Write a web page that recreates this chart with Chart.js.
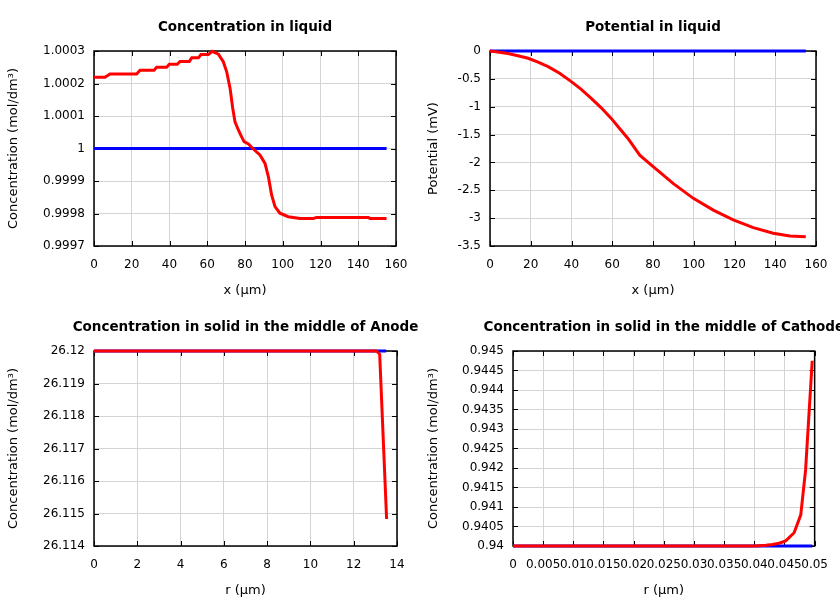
<!DOCTYPE html>
<html>
<head>
<meta charset="utf-8">
<script src="https://cdn.jsdelivr.net/npm/chart.js@4.4.1/dist/chart.umd.min.js"></script>
<style>
  body { margin: 0; background: #fff; }
  #wrap { position: relative; width: 840px; height: 600px; overflow: hidden; }
  canvas { position: absolute; }
</style>
</head>
<body>
<div id="wrap">
  <canvas id="c1" width="420" height="300" style="left:0;top:0"></canvas>
  <canvas id="c2" width="420" height="300" style="left:420px;top:0"></canvas>
  <canvas id="c3" width="420" height="300" style="left:0;top:300px"></canvas>
  <canvas id="c4" width="420" height="300" style="left:420px;top:300px"></canvas>
</div>
<script>
// concentration in liquid
var liquidX = [0, 5.8, 8.5, 22.6, 24.4, 31.8, 33.2, 38.5, 39.9, 44.1, 45.6, 50.5, 51.8, 55.3, 56.7, 60.6, 62.6, 65.9, 68.5, 70.3, 72.1, 73.5, 74.7, 76.5, 77.7, 79.5, 81.8, 84.4, 87.9, 90.6, 92.4, 94.1, 95.9, 98.5, 102.9, 109.1, 116.2, 118, 145.3, 146.2, 155];
var liquidConc = [1.000219, 1.000219, 1.000229, 1.000229, 1.000241, 1.000241, 1.00025, 1.00025, 1.000259, 1.000259, 1.000268, 1.000268, 1.000279, 1.000279, 1.000289, 1.000289, 1.000299, 1.00029, 1.000267, 1.000236, 1.000185, 1.000124, 1.000082, 1.000057, 1.000042, 1.000021, 1.000014, 0.9999985, 0.99998, 0.999954, 0.999913, 0.999857, 0.999821, 0.999801, 0.99979, 0.999785, 0.999785, 0.999788, 0.999788, 0.999785, 0.999785];
var liquidInitX = [0, 155];
var liquidInit = [1, 1];

// potential in liquid
var potX = [0, 2.9, 8.8, 13.7, 18.7, 23.6, 28.5, 34.2, 39.9, 44.8, 49.7, 54.6, 59.5, 63.6, 67.7, 73.5, 79.2, 90, 99.8, 109.6, 119.4, 129.2, 139, 147.2, 155];
var potential = [0, -0.012, -0.045, -0.084, -0.13, -0.2, -0.28, -0.4, -0.55, -0.69, -0.85, -1.02, -1.21, -1.39, -1.57, -1.87, -2.05, -2.38, -2.645, -2.855, -3.03, -3.17, -3.27, -3.32, -3.335];
var potInitX = [0, 155];
var potInit = [0, 0];

// solid, anode
var anodeX = [0, 13.06, 13.2, 13.52];
var anodeConc = [26.12, 26.12, 26.1199, 26.11483];
var anodeInitX = [0, 13.5];
var anodeInit = [26.12, 26.12];

// solid, cathode
var cathX = [0, 0.0402, 0.0419, 0.043, 0.0441, 0.0452, 0.0466, 0.0477, 0.0485, 0.0496];
var cathConc = [0.94, 0.94, 0.94002, 0.94004, 0.94007, 0.94013, 0.94034, 0.9408, 0.94195, 0.94475];
var cathInitX = [0, 0.0496];
var cathInit = [0.94, 0.94];

// tick labels
var xTicksLiquid = [0, 20, 40, 60, 80, 100, 120, 140, 160];
var yTicksLiquid = [0.9997, 0.9998, 0.9999, 1, 1.0001, 1.0002, 1.0003];
var yTicksPot = [-3.5, -3, -2.5, -2, -1.5, -1, -0.5, 0];
var xTicksAnode = [0, 2, 4, 6, 8, 10, 12, 14];
var yTicksAnode = [26.114, 26.115, 26.116, 26.117, 26.118, 26.119, 26.12];
var xTicksCath = [0, 0.005, 0.01, 0.015, 0.02, 0.025, 0.03, 0.035, 0.04, 0.045, 0.05];
var yTicksCath = [0.94, 0.9405, 0.941, 0.9415, 0.942, 0.9425, 0.943, 0.9435, 0.944, 0.9445, 0.945];

Chart.defaults.font.family = "'DejaVu Sans', sans-serif";
Chart.defaults.font.size = 12;
Chart.defaults.color = '#000';

function pts(xs, ys) {
  return xs.map(function(x, i) { return {x: x, y: ys[i]}; });
}
function fmt(v) { return String(parseFloat(v.toFixed(6))); }

// gnuplot-like frame with inward ticks, plus title over plot area
var gnuFrame = {
  id: 'gnuFrame',
  beforeDatasetsDraw: function(chart) {
    var a = chart.chartArea, ctx = chart.ctx;
    var xs = chart.scales.x, ys = chart.scales.y;
    ctx.save();
    ctx.strokeStyle = '#000';
    ctx.lineWidth = 1;
    ctx.beginPath();
    xs.ticks.forEach(function(t) {
      var px = Math.round(xs.getPixelForValue(t.value)) + 0.5;
      ctx.moveTo(px, a.bottom); ctx.lineTo(px, a.bottom - 5);
      ctx.moveTo(px, a.top); ctx.lineTo(px, a.top + 5);
    });
    ys.ticks.forEach(function(t) {
      var py = Math.round(ys.getPixelForValue(t.value)) + 0.5;
      ctx.moveTo(a.left, py); ctx.lineTo(a.left + 5, py);
      ctx.moveTo(a.right, py); ctx.lineTo(a.right - 5, py);
    });
    ctx.stroke();
    ctx.lineWidth = 1.5;
    ctx.strokeRect(a.left, a.top, a.right - a.left, a.bottom - a.top);
    ctx.restore();
  },
  afterDraw: function(chart) {
    var a = chart.chartArea, ctx = chart.ctx;
    ctx.save();
    ctx.font = "bold 13.5px 'DejaVu Sans', sans-serif";
    ctx.fillStyle = '#000';
    ctx.textAlign = 'center';
    ctx.textBaseline = 'middle';
    ctx.fillText(chart.options.gnuTitle, (a.left + a.right) / 2, 27);
    ctx.restore();
  }
};

function makeChart(id, title, xTitle, yTitle, xMin, xMax, xTicks, yTicks, red, blue, left, right) {
  return new Chart(document.getElementById(id), {
    type: 'line',
    data: {
      datasets: [
        { data: red, borderColor: '#ff0000', borderWidth: 3, pointRadius: 0, tension: 0, clip: false },
        { data: blue, borderColor: '#0000ff', borderWidth: 3, pointRadius: 0, tension: 0, clip: false }
      ]
    },
    plugins: [gnuFrame],
    options: {
      gnuTitle: title,
      responsive: false,
      animation: false,
      devicePixelRatio: 1,
      layout: { padding: { top: 51, right: right, bottom: 0, left: 0 } },
      plugins: { legend: { display: false }, tooltip: { enabled: false } },
      scales: {
        x: {
          type: 'linear',
          min: xMin, max: xMax,
          afterBuildTicks: function(s) { s.ticks = xTicks.map(function(v) { return {value: v}; }); },
          afterFit: function(s) { s.height = 54; },
          ticks: { autoSkip: false, maxRotation: 0, padding: 12, callback: fmt },
          grid: { color: '#d4d4d4', drawTicks: false },
          border: { display: false },
          title: { display: true, text: xTitle, font: { size: 13 }, padding: { top: 0, bottom: 2 } }
        },
        y: {
          type: 'linear',
          min: yTicks[0], max: yTicks[yTicks.length - 1],
          afterBuildTicks: function(s) { s.ticks = yTicks.map(function(v) { return {value: v}; }); },
          afterFit: function(s) { s.width = left; },
          ticks: { autoSkip: false, padding: 9, callback: fmt },
          grid: { color: '#d4d4d4', drawTicks: false },
          border: { display: false },
          title: { display: true, text: yTitle, font: { size: 13 }, padding: { top: 6, bottom: 0 } }
        }
      }
    }
  });
}

makeChart('c1', 'Concentration in liquid', 'x (\u03bcm)', 'Concentration (mol/dm\u00b3)',
  0, 160, xTicksLiquid, yTicksLiquid, pts(liquidX, liquidConc), pts(liquidInitX, liquidInit), 94, 24);
makeChart('c2', 'Potential in liquid', 'x (\u03bcm)', 'Potential (mV)',
  0, 160, xTicksLiquid, yTicksPot, pts(potX, potential), pts(potInitX, potInit), 70, 24);
makeChart('c3', 'Concentration in solid in the middle of Anode', 'r (\u03bcm)', 'Concentration (mol/dm\u00b3)',
  0, 14, xTicksAnode, yTicksAnode, pts(anodeX, anodeConc), pts(anodeInitX, anodeInit), 94, 23);
makeChart('c4', 'Concentration in solid in the middle of Cathode', 'r (\u03bcm)', 'Concentration (mol/dm\u00b3)',
  0, 0.05, xTicksCath, yTicksCath, pts(cathX, cathConc), pts(cathInitX, cathInit), 93, 24);
</script>
</body>
</html>
